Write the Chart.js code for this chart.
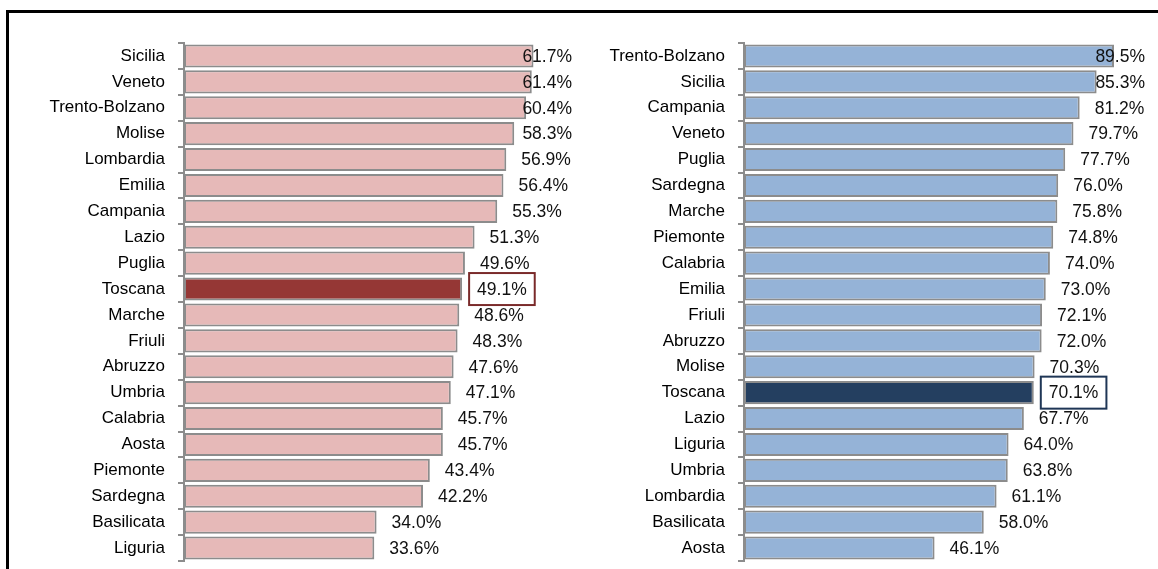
<!DOCTYPE html>
<html>
<head>
<meta charset="utf-8">
<script src="https://cdn.jsdelivr.net/npm/chart.js@4.4.1/dist/chart.umd.min.js"></script>
<style>
    body { margin: 0; background: #fff; width: 1158px; height: 569px; overflow: hidden; position: relative; }
    #cornice { position: absolute; left: 6px; top: 10px; width: 1200px; height: 600px; border-left: 3px solid #000; border-top: 3px solid #000; }
    #graficoSinistra { position: absolute; left: 0; top: 0; }
    #graficoDestra { position: absolute; left: 590px; top: 0; }
</style>
</head>
<body>
<div id="cornice"></div>
<canvas id="graficoSinistra" width="590" height="569"></canvas>
<canvas id="graficoDestra" width="568" height="569"></canvas>

<script>
// =========================================================
// 1. DATA
// =========================================================
const regioniSinistra = ['Sicilia', 'Veneto', 'Trento-Bolzano', 'Molise', 'Lombardia', 'Emilia', 'Campania',
    'Lazio', 'Puglia', 'Toscana', 'Marche', 'Friuli', 'Abruzzo', 'Umbria', 'Calabria', 'Aosta',
    'Piemonte', 'Sardegna', 'Basilicata', 'Liguria'];
const valoriSinistra = [61.7, 61.4, 60.4, 58.3, 56.9, 56.4, 55.3, 51.3, 49.6, 49.1, 48.6, 48.3,
    47.6, 47.1, 45.7, 45.7, 43.4, 42.2, 34.0, 33.6];

const regioniDestra = ['Trento-Bolzano', 'Sicilia', 'Campania', 'Veneto', 'Puglia', 'Sardegna', 'Marche',
    'Piemonte', 'Calabria', 'Emilia', 'Friuli', 'Abruzzo', 'Molise', 'Toscana', 'Lazio', 'Liguria',
    'Umbria', 'Lombardia', 'Basilicata', 'Aosta'];
const valoriDestra = [89.5, 85.3, 81.2, 79.7, 77.7, 76.0, 75.8, 74.8, 74.0, 73.0, 72.1, 72.0,
    70.3, 70.1, 67.7, 64.0, 63.8, 61.1, 58.0, 46.1];

// region that gets highlighted in both charts
const regioneEvidenziata = 'Toscana';

// x axis ranges (no ticks are shown)
const assexSinistra = [0, 68.5];
const assexDestra = [0, 97];


// =========================================================
// 2. PLUGIN: VALUE LABELS (+ box on the highlighted bar)
// =========================================================
const etichetteValori = {
    id: 'etichetteValori',
    afterDatasetsDraw(chart, args, opts) {
        const ctx = chart.ctx;
        const meta = chart.getDatasetMeta(0);
        const dati = chart.data.datasets[0].data;
        const limiteDestro = chart.chartArea.right;

        ctx.save();
        ctx.font = '17.5px "Liberation Sans", Arial, sans-serif';
        ctx.textBaseline = 'middle';
        ctx.textAlign = 'left';

        meta.data.forEach((barra, i) => {
            const testo = dati[i].toFixed(1) + '%';
            const larghezza = ctx.measureText(testo).width;
            // text goes after the bar end, but never past the plot area
            let x = barra.x + 15;
            if (x + larghezza > limiteDestro) x = limiteDestro - larghezza;

            if (chart.data.labels[i] === regioneEvidenziata) {
                ctx.fillStyle = '#fff';
                ctx.fillRect(x - 8, barra.y - 16, larghezza + 16, 32);
                ctx.strokeStyle = opts.coloreBox;
                ctx.lineWidth = 2;
                ctx.strokeRect(x - 8, barra.y - 16, larghezza + 16, 32);
            }
            ctx.fillStyle = '#111';
            ctx.fillText(testo, x, barra.y + 1);
        });
        ctx.restore();
    }
};


// =========================================================
// 3. CHART BUILDER
// =========================================================
function creaGrafico(idCanvas, regioni, valori, assex, colori, larghezzaAsse, paddingDestro) {
    const ctx = document.getElementById(idCanvas).getContext('2d');
    const coloriBarre = regioni.map(r => r === regioneEvidenziata ? colori.evidenza : colori.base);

    return new Chart(ctx, {
        type: 'bar',
        data: {
            labels: regioni,
            datasets: [{
                data: valori,
                backgroundColor: coloriBarre,
                borderColor: '#8c8c8c',
                borderWidth: 2,
                borderSkipped: false,
                barPercentage: 0.89,
                categoryPercentage: 1
            }]
        },
        options: {
            indexAxis: 'y',
            responsive: false,
            animation: false,
            layout: { padding: { top: 43, bottom: 8, right: paddingDestro, left: 0 } },
            plugins: {
                legend: { display: false },
                tooltip: { enabled: false },
                etichetteValori: { coloreBox: colori.box }
            },
            scales: {
                x: { display: false, min: assex[0], max: assex[1] },
                y: {
                    // fixed axis width; the label padding must not push the plot area up
                    afterFit: (scala) => {
                        scala.width = larghezzaAsse;
                        scala.paddingTop = 0;
                        scala.paddingBottom = 0;
                    },
                    border: { display: true, color: '#8c8c8c', width: 2 },
                    grid: { drawOnChartArea: false, drawTicks: true, tickLength: 6, color: '#8c8c8c', lineWidth: 2, offset: true },
                    ticks: {
                        padding: 13,
                        color: '#000',
                        font: { family: '"Liberation Sans", Arial, sans-serif', size: 17 }
                    }
                }
            }
        },
        plugins: [etichetteValori]
    });
}


// =========================================================
// 4. DRAW BOTH CHARTS
// =========================================================
creaGrafico('graficoSinistra', regioniSinistra, valoriSinistra, assexSinistra,
    { base: '#e6b9b8', evidenza: '#953735', box: '#7a2a2a' }, 184, 18);

creaGrafico('graficoDestra', regioniDestra, valoriDestra, assexDestra,
    { base: '#95b3d7', evidenza: '#243f60', box: '#1f3656' }, 154, 13);
</script>
</body>
</html>
